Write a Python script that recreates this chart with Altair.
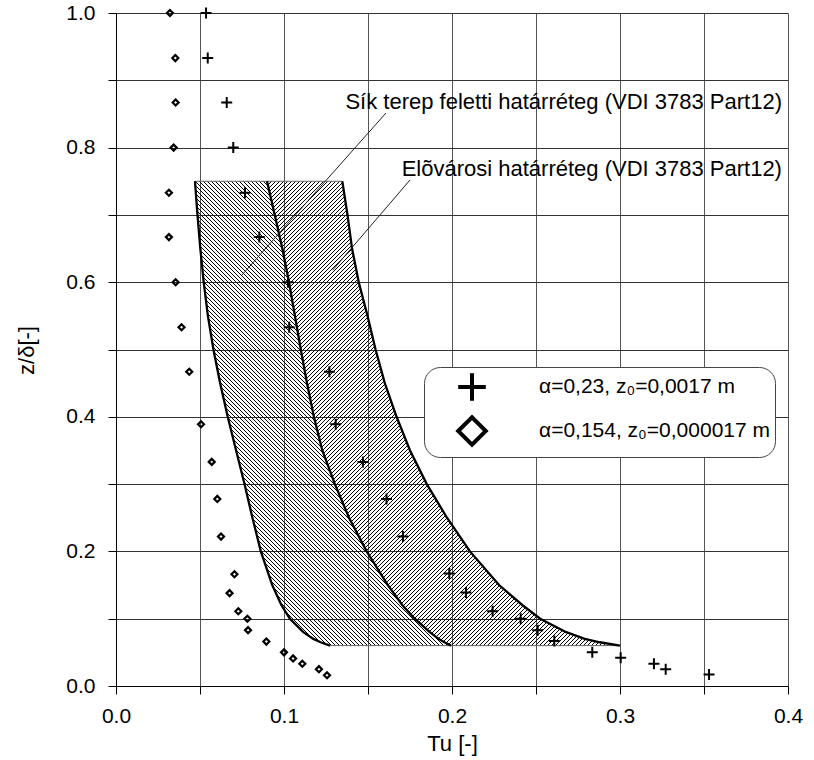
import math
import altair as alt
import pandas as pd

# ---------------- data ----------------
lab_cross = "α=0,23, z₀=0,0017 m"
lab_diam = "α=0,154, z₀=0,000017 m"

cross_tu = [0.0536, 0.0546, 0.0659, 0.0698, 0.0768, 0.0853, 0.1024, 0.1031, 0.1270, 0.1308,
            0.1470, 0.1610, 0.1708, 0.1984, 0.2083, 0.2242, 0.2409, 0.2510, 0.2609, 0.2835,
            0.3004, 0.3202, 0.3272, 0.3530]
cross_z = [1.000, 0.933, 0.867, 0.800, 0.733, 0.667, 0.600, 0.533, 0.467, 0.389,
           0.333, 0.278, 0.222, 0.167, 0.139, 0.111, 0.100, 0.083, 0.067, 0.050,
           0.042, 0.033, 0.025, 0.017]

diam_tu = [0.0321, 0.0353, 0.0355, 0.0343, 0.0315, 0.0315, 0.0355, 0.0390, 0.0436, 0.0506,
           0.0570, 0.0603, 0.0625, 0.0705, 0.0676, 0.0728, 0.0782, 0.0786, 0.0895, 0.1000,
           0.1054, 0.1109, 0.1208, 0.1256]
diam_z = [1.000, 0.933, 0.867, 0.800, 0.733, 0.667, 0.600, 0.533, 0.467, 0.389,
          0.333, 0.278, 0.222, 0.166, 0.138, 0.111, 0.100, 0.083, 0.066, 0.050,
          0.041, 0.033, 0.025, 0.016]

# VDI 3783 band boundaries (Tu read at given z/delta)
band_z = [0.75, 0.70, 0.65, 0.60, 0.55, 0.50, 0.45, 0.40, 0.35, 0.30, 0.25, 0.20,
          0.15, 0.12, 0.10, 0.08, 0.07, 0.065, 0.06]
flat_left = [0.0470, 0.0485, 0.0502, 0.0522, 0.0547, 0.0580, 0.0620, 0.0665, 0.0715, 0.0765,
             0.0812, 0.0862, 0.0930, 0.0985, 0.1035, 0.1115, 0.1175, 0.1218, 0.1274]
middle = [0.0899, 0.0945, 0.0990, 0.1030, 0.1065, 0.1100, 0.1137, 0.1178, 0.1228, 0.1303,
          0.1387, 0.1492, 0.1618, 0.1705, 0.1778, 0.1868, 0.1920, 0.1955, 0.1995]
suburb_right = [0.1347, 0.1378, 0.1405, 0.1445, 0.1497, 0.1545, 0.1600, 0.1670, 0.1750, 0.1850,
                0.1970, 0.2107, 0.2280, 0.2420, 0.2525, 0.2680, 0.2790, 0.2880, 0.3000]

ann_text = ["Sík terep feletti határréteg (VDI 3783 Part12)",
            "Elõvárosi határréteg (VDI 3783 Part12)"]
ann_tu = [0.3964, 0.3964]
ann_z = [0.868, 0.768]

lead_tu1 = [0.1607, 0.1750]
lead_z1 = [0.8514, 0.7519]
lead_tu2 = [0.0750, 0.1290]
lead_z2 = [0.6107, 0.6180]

x_ticks = [0.0, 0.05, 0.10, 0.15, 0.20, 0.25, 0.30, 0.35, 0.40]
y_ticks = [0.0, 0.1, 0.2, 0.3, 0.4, 0.5, 0.6, 0.7, 0.8, 0.9, 1.0]

# ---------------- layout ----------------
PW, PH = 672, 673
XMAX, YMAX = 0.4, 1.0
FONT = "Liberation Sans"


def hatch(lo, hi, zs, kind, period_h=4.0, dark_h=1.0):
    """Striped linear gradient relative to the band's bounding box."""
    W = (max(hi) - min(lo)) / XMAX * PW
    H = (max(zs) - min(zs)) / YMAX * PH
    s = (W + H) / (W * W + H * H)
    if kind == "back":  # lines running top-left -> bottom-right
        x1, y1, x2, y2 = 0.0, 1.0, s * W, 1.0 - s * H
    else:               # lines running bottom-left -> top-right
        x1, y1, x2, y2 = 0.0, 0.0, s * W, s * H
    span = (W + H) / math.sqrt(2)
    P = period_h / math.sqrt(2)
    step = P / span
    f = dark_h / period_h
    stops = []
    k = 0
    while k * step < 1:
        a = k * step
        b = min((k + f) * step, 1.0)
        c = min((k + 1) * step, 1.0)
        stops += [{"offset": round(a, 6), "color": "#000000"},
                  {"offset": round(b, 6), "color": "#000000"},
                  {"offset": round(b, 6), "color": "rgba(255,255,255,0)"},
                  {"offset": round(c, 6), "color": "rgba(255,255,255,0)"}]
        k += 1
    return {"gradient": "linear", "x1": x1, "y1": y1, "x2": x2, "y2": y2, "stops": stops}


xscale = alt.Scale(domain=[0, XMAX], nice=False, zero=False)
yscale = alt.Scale(domain=[0, YMAX], nice=False, zero=False)
xaxis = alt.Axis(values=x_ticks, title="Tu [-]", grid=True,
                 labelExpr="round(datum.value*20) % 2 == 0 ? format(datum.value, '.1f') : ''",
                 titleX=336, titleY=57, titleBaseline="middle", titleAlign="center",
                 gridColor="#555555", labelPadding=11, labelFlush=False)
yaxis = alt.Axis(values=y_ticks, title="z/δ[-]", grid=True,
                 labelExpr="round(datum.value*10) % 2 == 0 ? format(datum.value, '.1f') : ''",
                 titleX=-90, titleY=337, titleBaseline="middle", titleAlign="center",
                 titleAngle=270, gridColor="#333333", labelPadding=13)


def X(field):
    return alt.X(field, type="quantitative", scale=xscale, axis=xaxis)


def Y(field):
    return alt.Y(field, type="quantitative", scale=yscale, axis=yaxis)


flat_df = pd.DataFrame({"z": band_z, "lo": flat_left, "hi": middle})
sub_df = pd.DataFrame({"z": band_z, "lo": middle, "hi": suburb_right})

flat_area = alt.Chart(flat_df).mark_area(
    orient="horizontal", fill=hatch(flat_left, middle, band_z, "back"),
    stroke="#666666", strokeWidth=1, opacity=1
).encode(y=Y("z"), x=X("lo"), x2="hi")

sub_area = alt.Chart(sub_df).mark_area(
    orient="horizontal", fill=hatch(middle, suburb_right, band_z, "fwd"),
    stroke="#666666", strokeWidth=1, opacity=1
).encode(y=Y("z"), x=X("lo"), x2="hi")

curve_rows = []
for name, vals in [("a", flat_left), ("b", middle), ("c", suburb_right)]:
    for z, t in zip(band_z, vals):
        curve_rows.append({"curve": name, "z": z, "tu": t})
curves = alt.Chart(pd.DataFrame(curve_rows)).mark_line(
    color="black", strokeWidth=2.3
).encode(x=X("tu"), y=Y("z"), detail="curve:N", order=alt.Order("z:Q"))

lead_df = pd.DataFrame({"tu": lead_tu1, "z": lead_z1, "tu2": lead_tu2, "z2": lead_z2})
leaders = alt.Chart(lead_df).mark_rule(color="#222222", strokeWidth=1).encode(
    x=X("tu"), y=Y("z"), x2="tu2", y2="z2")

ann_df = pd.DataFrame({"tu": ann_tu, "z": ann_z, "t": ann_text})
texts = alt.Chart(ann_df).mark_text(
    align="right", baseline="middle", font=FONT, fontSize=22, color="black"
).encode(x=X("tu"), y=Y("z"), text="t:N")

CROSS = "M-1,0L1,0M0,-1L0,1"
shape_scale = alt.Scale(domain=[lab_cross, lab_diam], range=[CROSS, "diamond"])
legend = alt.Legend(title=None)

cross_df = pd.DataFrame({"tu": cross_tu, "z": cross_z, "s": lab_cross})
diam_df = pd.DataFrame({"tu": diam_tu, "z": diam_z, "s": lab_diam})

crosses = alt.Chart(cross_df).mark_point(
    filled=False, size=121, strokeWidth=2, color="black", opacity=1
).encode(x=X("tu"), y=Y("z"), shape=alt.Shape("s:N", scale=shape_scale, legend=legend))

diamonds = alt.Chart(diam_df).mark_point(
    filled=False, size=36, strokeWidth=2.2, color="black", opacity=1
).encode(x=X("tu"), y=Y("z"), shape=alt.Shape("s:N", scale=shape_scale, legend=legend))

chart = alt.layer(flat_area, sub_area, curves, leaders, texts, crosses, diamonds).properties(
    width=PW, height=PH,
    padding={"left": 116, "top": 13, "right": 814 - 116 - PW, "bottom": 760 - 13 - PH},
    autosize=alt.AutoSizeParams(type="none"),
).configure_view(stroke=None).configure_axis(
    labelFont=FONT, titleFont=FONT, labelFontSize=21, titleFontSize=22,
    labelColor="black", titleColor="black", titleFontWeight="normal",
    domainColor="black", tickColor="black", tickSize=8, gridOpacity=1,
    labelOverlap=False,
).configure_legend(
    orient="none", legendX=308, legendY=354, padding=4,
    fillColor="white", strokeColor="#444444", cornerRadius=16,
    symbolSize=760, symbolStrokeWidth=4, symbolStrokeColor="black",
    symbolFillColor="white", labelFont=FONT, labelFontSize=21, labelColor="black",
    symbolOffset=28, labelOffset=51, rowPadding=0, labelLimit=500,
)

chart.save("out.html", embed_options={"renderer": "svg", "actions": False})
